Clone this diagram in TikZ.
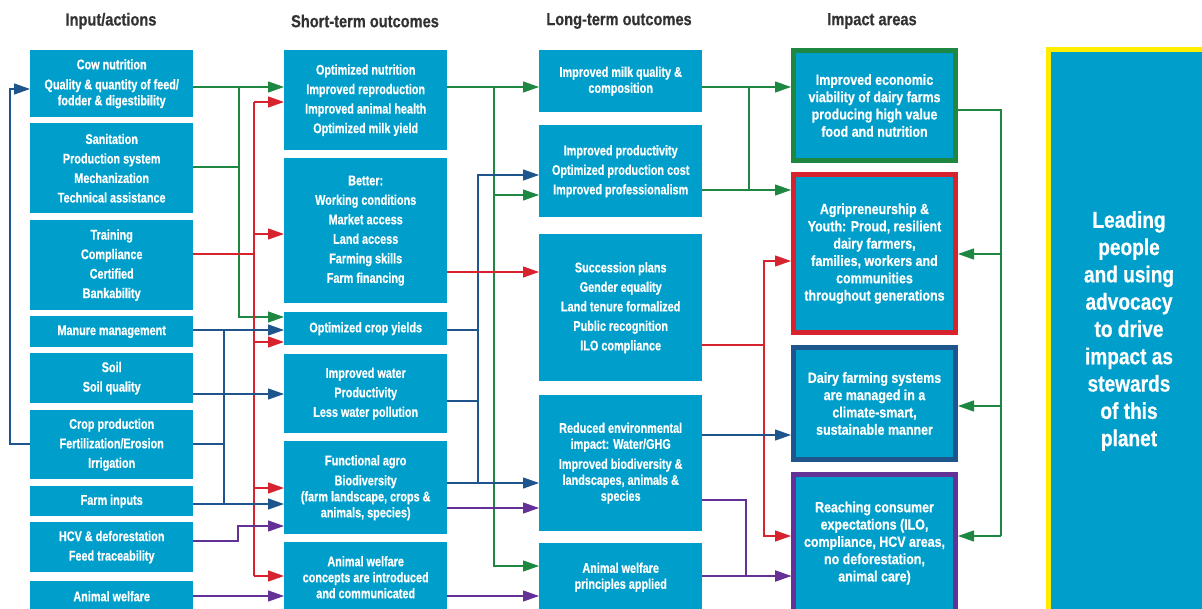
\documentclass[tikz,border=0pt]{standalone}
\usepackage{fontspec}
\usepackage{tikz}
\usetikzlibrary{arrows.meta}
\newfontfamily\boxfont{Liberation Sans}[FakeStretch=0.775, FakeBold=0.6]
\newfontfamily\impactfont{Liberation Sans}[FakeStretch=0.84, FakeBold=0.6]
\newfontfamily\leadfont{Liberation Sans}[FakeStretch=0.83, FakeBold=0.6]
\definecolor{boxblue}{RGB}{0,159,203}
\definecolor{lgreen}{RGB}{30,135,65}
\definecolor{lred}{RGB}{215,35,45}
\definecolor{lblue}{RGB}{30,85,140}
\definecolor{lpurple}{RGB}{100,50,150}
\definecolor{lyellow}{RGB}{255,237,0}
\definecolor{headgray}{RGB}{50,50,50}
\newcommand\listtext{\boxfont\bfseries\fontsize{14}{19.5}\selectfont}
\newcommand\paratext{\boxfont\bfseries\fontsize{14}{16}\selectfont}

\begin{document}
\begin{tikzpicture}[
        x=1pt, y=-1pt,
        >={Triangle[length=16pt,width=11pt]},
        box/.style={fill=boxblue, text=white, inner sep=0pt, align=center,
            anchor=north west, minimum width=163, font={\listtext}},
        para/.style={box, font={\paratext}},
        impact/.style={box, line width=5pt, minimum width=162,
            font={\impactfont\bfseries\fontsize{14.8}{17.3}\selectfont}},
        head/.style={text=headgray, font={\impactfont\bfseries\fontsize{17.4}{19}\selectfont}},
        gline/.style={draw=lgreen, line width=1.2pt},
        rline/.style={draw=lred, line width=1.2pt},
        bline/.style={draw=lblue, line width=1.2pt},
        pline/.style={draw=lpurple, line width=1.2pt}
    ]
        \useasboundingbox (0,0) rectangle (1202,608);
        \clip (0,0) rectangle (1202,608);

        % column headings
        \node[head] (h1) at (111,21) {Input/actions};
        \node[head] (h2) at (365,21) {Short-term outcomes};
        \node[head] (h3) at (619,21) {Long-term outcomes};
        \node[head] (h4) at (872,21) {Impact areas};

        % inputs / actions
        \node[para, minimum height=67] (cow) at (30,50) {Cow nutrition\\[4pt]Quality \& quantity of feed/\\fodder \& digestibility};
        \node[box, minimum height=90] (sanit) at (30,123) {Sanitation\\Production system\\Mechanization\\Technical assistance};
        \node[box, minimum height=90] (train) at (30,220) {Training\\Compliance\\Certified\\Bankability};
        \node[box, minimum height=31] (manure) at (30,316) {Manure management};
        \node[box, minimum height=50] (soil) at (30,353) {Soil\\Soil quality};
        \node[box, minimum height=69] (crop) at (30,410) {Crop production\\Fertilization/Erosion\\Irrigation};
        \node[box, minimum height=30] (inputs) at (30,486) {Farm inputs};
        \node[box, minimum height=50] (hcv) at (30,522) {HCV \& deforestation\\Feed traceability};
        \node[box, minimum height=30] (welfare) at (30,581) {Animal welfare};

        % short-term outcomes
        \node[box, minimum height=100] (optnut) at (284,50) {Optimized nutrition\\Improved reproduction\\Improved animal health\\Optimized milk yield};
        \node[box, minimum height=145] (better) at (284,158) {Better:\\Working conditions\\Market access\\Land access\\Farming skills\\Farm financing};
        \node[box, minimum height=33] (optcrop) at (284,312) {Optimized crop yields};
        \node[box, minimum height=79] (water) at (284,354) {Improved water\\Productivity\\Less water pollution};
        \node[para, minimum height=93] (agro) at (284,441) {Functional agro\\[4pt]Biodiversity\\(farm landscape, crops \&\\animals, species)};
        \node[para, minimum height=70] (concepts) at (284,542) {Animal welfare\\concepts are introduced\\and communicated};

        % long-term outcomes
        \node[para, minimum height=62] (milk) at (539,50) {Improved milk quality \&\\composition};
        \node[box, minimum height=92] (prod) at (539,125) {Improved productivity\\Optimized production cost\\Improved professionalism};
        \node[box, minimum height=147] (succ) at (539,234) {Succession plans\\Gender equality\\Land tenure formalized\\Public recognition\\ILO compliance};
        \node[para, minimum height=136] (env) at (539,395) {Reduced environmental\\impact: Water/GHG\\[4pt]Improved biodiversity \&\\landscapes, animals \&\\species};
        \node[para, minimum height=68] (principles) at (539,543) {Animal welfare\\principles applied};

        % impact areas
        \node[impact, draw=lgreen, minimum height=110] (econ) at (791,48) {Improved economic\\viability of dairy farms\\producing high value\\food and nutrition};
        \node[impact, draw=lred, minimum height=158] (youth) at (791,172) {Agripreneurship \&\\Youth: Proud, resilient\\dairy farmers,\\families, workers and\\communities\\throughout generations};
        \node[impact, draw=lblue, minimum height=112] (climate) at (791,345) {Dairy farming systems\\are managed in a\\climate-smart,\\sustainable manner};
        \node[impact, draw=lpurple, minimum height=137] (consumer) at (791,472) {Reaching consumer\\expectations (ILO,\\compliance, HCV areas,\\no deforestation,\\animal care)};

        \node[box, draw=lyellow, line width=5pt, minimum width=161, minimum height=563,
            font={\leadfont\bfseries\fontsize{23}{27.3}\selectfont}] (lead) at (1046,47)
            {Leading\\people\\and using\\advocacy\\ to drive\\impact as\\stewards\\of this\\planet};

        % inputs -> short-term
        \draw [gline,->] (cow.east |- 0,87) -- (optnut.west |- 0,87);
        \draw [gline,->] (cow.east |- 0,87) -| (239,317) -- (optcrop.west |- 0,317);
        \draw [gline] (sanit.east |- 0,167) -- (239,167);

        \draw [rline] (train.east |- 0,254) -- (254,254);
        \draw [rline] (254,102) -- (254,576);
        \foreach \y/\n in {102/optnut,234/better,342/optcrop,488/agro,576/concepts} {
            \draw [rline,->] (254,\y) -- (\n.west |- 0,\y);
        }

        \draw [bline,->] (manure.east |- 0,330) -- (optcrop.west |- 0,330);
        \draw [bline] (224,330) -- (224,504);
        \draw [bline] (crop.east |- 0,444) -- (224,444);
        \draw [bline,->] (inputs.east |- 0,504) -- (agro.west |- 0,504);
        \draw [bline,->] (soil.east |- 0,394) -- (water.west |- 0,394);
        \draw [bline,->] (crop.west |- 0,444) -- ++(-20,0) |- (cow.west |- 0,89);

        \draw [pline,->] (hcv.east |- 0,541) -| (238,526) -- (agro.west |- 0,526);
        \draw [pline,->] (welfare.east |- 0,596) -- (concepts.west |- 0,596);

        % short-term -> long-term
        \draw [gline,->] (optnut.east |- 0,87) -- (milk.west |- 0,87);
        \draw [gline,->] (494,87) |- (prod.west |- 0,195);
        \draw [gline,->] (494,87) |- (principles.west |- 0,566);

        \draw [bline,->] (agro.east |- 0,483) -| (478,175) -- (prod.west |- 0,175);
        \draw [bline] (optcrop.east |- 0,330) -- (478,330);
        \draw [bline] (water.east |- 0,401) -- (478,401);
        \draw [bline,->] (agro.east |- 0,483) -- (env.west |- 0,483);

        \draw [rline,->] (better.east |- 0,272) -- (succ.west |- 0,272);

        \draw [pline,->] (agro.east |- 0,508) -- (env.west |- 0,508);
        \draw [pline,->] (concepts.east |- 0,596) -- (principles.west |- 0,596);

        % long-term -> impact areas
        \draw [gline,->] (milk.east |- 0,87) -- (econ.west |- 0,87);
        \draw [gline,->] (prod.east |- 0,190) -- (youth.west |- 0,190);
        \draw [gline] (749,87) -- (749,190);

        \draw [rline,->] (succ.east |- 0,345) -| (764,261) -- (youth.west |- 0,261);
        \draw [rline,->] (764,345) |- (consumer.west |- 0,536);

        \draw [bline,->] (env.east |- 0,435) -- (climate.west |- 0,435);

        \draw [pline,->] (env.east |- 0,500) -| (746,576) -- (consumer.west |- 0,576);
        \draw [pline,->] (principles.east |- 0,576) -- (consumer.west |- 0,576);

        % feedback on the right
        \draw [gline] (econ.east |- 0,110) -| (1001,536);
        \foreach \y/\n in {254/youth,406/climate,536/consumer} {
            \draw [gline,->] (1001,\y) -- (\n.east |- 0,\y);
        }
    \end{tikzpicture}
\end{document}
